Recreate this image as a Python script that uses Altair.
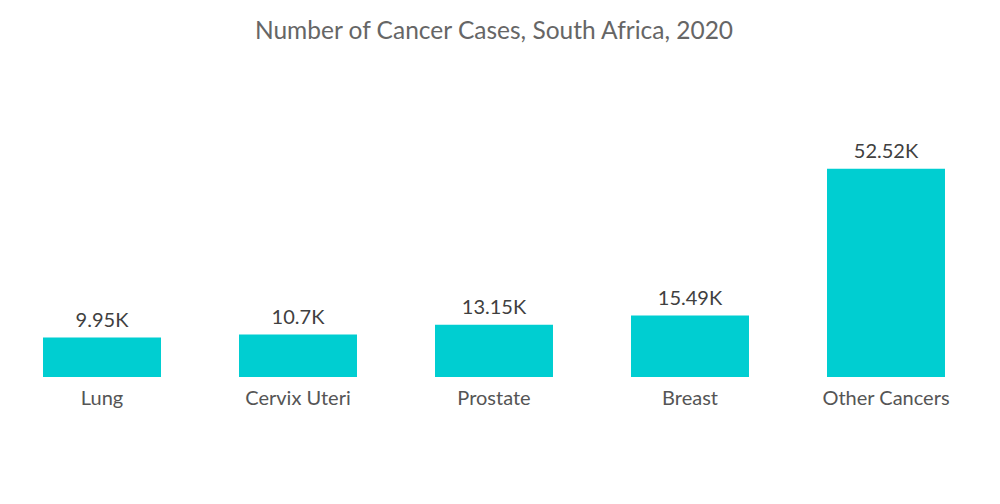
import altair as alt
import pandas as pd

categories = ["Lung", "Cervix Uteri", "Prostate", "Breast", "Other Cancers"]
values = [9950, 10700, 13150, 15490, 52520]
labels = ["9.95K", "10.7K", "13.15K", "15.49K", "52.52K"]

df = pd.DataFrame({"category": categories, "value": values, "label": labels})

FONT = "Lato"

x = alt.X("category:N", sort=categories, title=None,
          scale=alt.Scale(paddingInner=0.398, paddingOuter=0.1786),
          axis=alt.Axis(labelAngle=0, domain=False, ticks=False, labelPadding=11,
                        labelFontSize=20, labelColor="#555555", labelFont=FONT))
y = alt.Y("value:Q", scale=alt.Scale(domain=[0, 60000]), axis=None)

bars = alt.Chart(df).mark_bar(color="#00CED1").encode(x=x, y=y)
text = alt.Chart(df).mark_text(baseline="alphabetic", dy=-11, fontSize=20,
                               color="#404040", font=FONT).encode(
    x=alt.X("category:N", sort=categories), y="value:Q", text="label:N")

chart = (bars + text).properties(
    width=972, height=238,
    title=alt.TitleParams("Number of Cancer Cases, South Africa, 2020", fontSize=24.5,
                          font=FONT, fontWeight="normal", color="#666666", offset=95,
                          anchor="middle"),
    padding={"left": 0, "right": 0, "top": 10, "bottom": 0},
).configure_view(stroke=None)

chart.save("out.html", embed_options={"renderer": "svg", "actions": False})
